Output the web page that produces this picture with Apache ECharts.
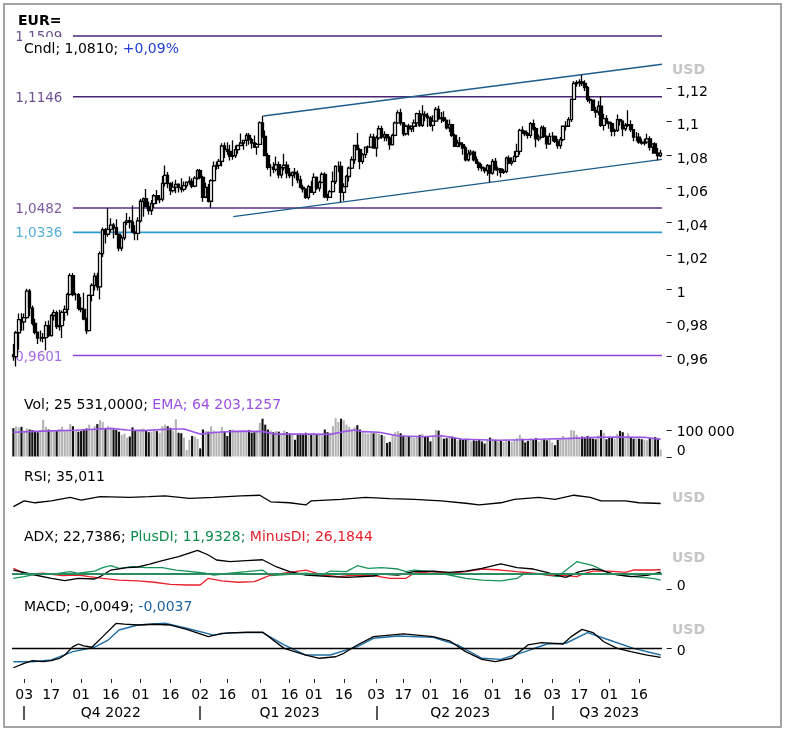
<!DOCTYPE html>
<html><head><meta charset="utf-8">
<script src="https://cdn.jsdelivr.net/npm/echarts@6/dist/echarts.min.js"></script>
<style>html,body{margin:0;padding:0;background:#fff}#c{width:785px;height:733px}</style>
</head><body><div id="c"></div>
<script>
const FONT = '"DejaVu Sans", Verdana, sans-serif';

// ---------- categories: trading days (weekdays) ----------
const firstDay = '2022-09-27', lastDay = '2023-08-28';
function weekdays(s, e) {
  const out = []; let d = new Date(s + 'T00:00:00Z'); const end = new Date(e + 'T00:00:00Z');
  while (d <= end) { const w = d.getUTCDay(); if (w !== 0 && w !== 6) out.push(d.toISOString().slice(0, 10)); d = new Date(d.getTime() + 86400000); }
  return out;
}
const dates = weekdays(firstDay, lastDay);

// ---------- tick labels ----------
const tickDates = ['2022-10-03','2022-10-17','2022-11-01','2022-11-16','2022-12-01','2022-12-16','2023-01-02','2023-01-16','2023-02-01','2023-02-16','2023-03-01','2023-03-16','2023-04-03','2023-04-17','2023-05-01','2023-05-16','2023-06-01','2023-06-16','2023-07-03','2023-07-17','2023-08-01','2023-08-16'];
const quarterStarts = ['2022-10-03','2023-01-02','2023-04-03','2023-07-03'];
const quarterCenters = ['2022-11-16','2023-02-16','2023-05-16','2023-08-01'];
const quarterLabels = ['Q4 2022','Q1 2023','Q2 2023','Q3 2023'];
const priceTicks = [0.96,0.98,1.00,1.02,1.04,1.06,1.08,1.10,1.12];
const priceTickLabels = ['0,96','0,98','1','1,02','1,04','1,06','1,08','1,1','1,12'];
const volTicks = [0, 100];
const volTickLabels = ['0', '100 000'];
const zeroTickLabels = ['0', ''];

// ---------- price (OHLC) ----------
const opens = [0.9605,0.9594,0.9737,0.9815,0.9802,0.9827,0.9985,0.9884,0.9793,0.9740,
0.9705,0.9705,0.9708,0.9780,0.9720,0.9840,0.9857,0.9774,0.9780,0.9859,
0.9877,0.9966,1.0078,0.9965,0.9965,0.9883,0.9876,0.9819,0.9750,0.9960,
1.0020,1.0075,1.0011,1.0210,1.0352,1.0325,1.0354,1.0380,1.0364,1.0325,
1.0243,1.0304,1.0396,1.0405,1.0398,1.0338,1.0330,1.0405,1.0522,1.0537,
1.0490,1.0467,1.0508,1.0555,1.0532,1.0535,1.0629,1.0677,1.0627,1.0585,
1.0606,1.0622,1.0603,1.0593,1.0615,1.0636,1.0640,1.0612,1.0660,1.0705,
1.0664,1.0546,1.0605,1.0522,1.0645,1.0732,1.0736,1.0760,1.0852,1.0832,
1.0820,1.0790,1.0795,1.0830,1.0855,1.0870,1.0885,1.0915,1.0890,1.0870,
1.0845,1.0862,1.0990,1.0910,1.0795,1.0725,1.0725,1.0713,1.0740,1.0680,
1.0722,1.0737,1.0690,1.0675,1.0695,1.0685,1.0650,1.0605,1.0595,1.0545,
1.0610,1.0575,1.0665,1.0600,1.0635,1.0682,1.0548,1.0545,1.0580,1.0640,
1.0730,1.0730,1.0575,1.0610,1.0670,1.0720,1.0770,1.0855,1.0830,1.0760,
1.0800,1.0845,1.0845,1.0905,1.0840,1.0900,1.0955,1.0905,1.0920,1.0900,
1.0860,1.0915,1.0990,1.1050,1.0990,1.0925,1.0970,1.0955,1.0970,1.0990,
1.1045,1.0975,1.1040,1.1030,1.1020,1.0975,1.1000,1.1070,1.1015,1.1020,
1.1005,1.0960,1.0980,1.0915,1.0850,1.0870,1.0860,1.0840,1.0770,1.0805,
1.0815,1.0770,1.0750,1.0725,1.0720,1.0705,1.0735,1.0690,1.0760,1.0710,
1.0715,1.0695,1.0700,1.0780,1.0750,1.0760,1.0790,1.0820,1.0945,1.0940,
1.0925,1.0915,1.0985,1.0955,1.0895,1.0905,1.0960,1.0910,1.0865,1.0910,
1.0910,1.0880,1.0855,1.0890,1.0970,1.0970,1.1010,1.1130,1.1225,1.1230,
1.1235,1.1225,1.1200,1.1130,1.1125,1.1065,1.1055,1.1090,1.0975,1.1015,
1.0995,1.0985,1.0940,1.0945,1.1010,1.1000,1.0955,1.0975,1.0980,1.0950,
1.0905,1.0905,1.0875,1.0870,1.0875,1.0895,1.0845,1.0865,1.0810,1.0795];
const closes = [0.9594,0.9737,0.9815,0.9802,0.9827,0.9985,0.9884,0.9793,0.9740,0.9705,
0.9705,0.9708,0.9780,0.9720,0.9840,0.9857,0.9774,0.9780,0.9859,0.9877,
0.9966,1.0078,0.9965,0.9965,0.9883,0.9876,0.9819,0.9750,0.9960,1.0020,
1.0075,1.0011,1.0210,1.0352,1.0325,1.0354,1.0380,1.0364,1.0325,1.0243,
1.0304,1.0396,1.0405,1.0398,1.0338,1.0330,1.0405,1.0522,1.0537,1.0490,
1.0467,1.0508,1.0555,1.0532,1.0535,1.0629,1.0677,1.0627,1.0585,1.0606,
1.0622,1.0603,1.0593,1.0615,1.0636,1.0640,1.0612,1.0660,1.0705,1.0664,
1.0546,1.0605,1.0522,1.0645,1.0732,1.0736,1.0760,1.0852,1.0832,1.0820,
1.0790,1.0795,1.0830,1.0855,1.0870,1.0885,1.0915,1.0890,1.0870,1.0845,
1.0862,1.0990,1.0910,1.0795,1.0725,1.0725,1.0713,1.0740,1.0680,1.0722,
1.0737,1.0690,1.0675,1.0695,1.0685,1.0650,1.0605,1.0595,1.0545,1.0610,
1.0575,1.0665,1.0600,1.0635,1.0682,1.0548,1.0545,1.0580,1.0640,1.0730,
1.0730,1.0575,1.0610,1.0670,1.0720,1.0770,1.0855,1.0830,1.0760,1.0800,
1.0845,1.0845,1.0905,1.0840,1.0900,1.0955,1.0905,1.0920,1.0900,1.0860,
1.0915,1.0990,1.1050,1.0990,1.0925,1.0970,1.0955,1.0970,1.0990,1.1045,
1.0975,1.1040,1.1030,1.1020,1.0975,1.1000,1.1070,1.1015,1.1020,1.1005,
1.0960,1.0980,1.0915,1.0850,1.0870,1.0860,1.0840,1.0770,1.0805,1.0815,
1.0770,1.0750,1.0725,1.0720,1.0705,1.0735,1.0690,1.0760,1.0710,1.0715,
1.0695,1.0700,1.0780,1.0750,1.0760,1.0790,1.0820,1.0945,1.0940,1.0925,
1.0915,1.0985,1.0955,1.0895,1.0905,1.0960,1.0910,1.0865,1.0910,1.0910,
1.0880,1.0855,1.0890,1.0970,1.0970,1.1010,1.1130,1.1225,1.1230,1.1235,
1.1225,1.1200,1.1130,1.1125,1.1065,1.1055,1.1090,1.0975,1.1015,1.0995,
1.0985,1.0940,1.0945,1.1010,1.1000,1.0955,1.0975,1.0980,1.0950,1.0905,
1.0905,1.0875,1.0870,1.0875,1.0895,1.0845,1.0865,1.0810,1.0795,1.0810];
const highs = [0.9670,0.9748,0.9852,0.9853,0.9852,0.9999,0.9998,0.9900,0.9820,0.9745,
0.9750,0.9735,0.9806,0.9810,0.9850,0.9875,0.9870,0.9875,0.9870,0.9900,
0.9976,1.0093,1.0094,0.9976,0.9975,0.9950,0.9976,0.9827,0.9965,1.0033,
1.0095,1.0095,1.0222,1.0365,1.0362,1.0481,1.0420,1.0392,1.0415,1.0330,
1.0320,1.0400,1.0452,1.0430,1.0497,1.0380,1.0427,1.0535,1.0545,1.0595,
1.0520,1.0530,1.0565,1.0590,1.0560,1.0673,1.0736,1.0697,1.0635,1.0640,
1.0650,1.0630,1.0660,1.0640,1.0640,1.0670,1.0660,1.0672,1.0714,1.0715,
1.0675,1.0633,1.0625,1.0653,1.0760,1.0760,1.0775,1.0868,1.0873,1.0875,
1.0860,1.0887,1.0855,1.0860,1.0927,1.0890,1.0930,1.0930,1.0900,1.0915,
1.0870,1.1000,1.1033,1.0945,1.0810,1.0745,1.0755,1.0790,1.0760,1.0730,
1.0805,1.0760,1.0720,1.0700,1.0720,1.0705,1.0675,1.0620,1.0600,1.0620,
1.0645,1.0690,1.0670,1.0645,1.0695,1.0695,1.0567,1.0590,1.0700,1.0737,
1.0760,1.0760,1.0630,1.0680,1.0730,1.0790,1.0860,1.0930,1.0840,1.0810,
1.0845,1.0855,1.0925,1.0925,1.0915,1.0975,1.0973,1.0940,1.0925,1.0910,
1.0925,1.0998,1.1065,1.1075,1.0995,1.0980,1.0985,1.0975,1.1010,1.1050,
1.1065,1.1095,1.1060,1.1050,1.1030,1.1035,1.1085,1.1092,1.1055,1.1060,
1.1010,1.1010,1.0985,1.0925,1.0890,1.0905,1.0875,1.0850,1.0830,1.0830,
1.0825,1.0790,1.0760,1.0745,1.0725,1.0745,1.0740,1.0775,1.0780,1.0730,
1.0720,1.0715,1.0790,1.0795,1.0785,1.0822,1.0865,1.0955,1.0970,1.0945,
1.0935,1.0995,1.1010,1.0965,1.0920,1.0975,1.0975,1.0915,1.0930,1.0935,
1.0915,1.0895,1.0905,1.0975,1.1000,1.1025,1.1135,1.1240,1.1245,1.1250,
1.1276,1.1245,1.1210,1.1150,1.1130,1.1085,1.1120,1.1150,1.1045,1.1035,
1.1000,1.0995,1.0955,1.1040,1.1015,1.1005,1.0990,1.1065,1.1005,1.0950,
1.0935,1.0930,1.0895,1.0895,1.0925,1.0910,1.0865,1.0875,1.0840,1.0830];
const lows = [0.9570,0.9536,0.9635,0.9749,0.9750,0.9820,0.9836,0.9780,0.9727,0.9670,
0.9685,0.9680,0.9632,0.9712,0.9715,0.9810,0.9760,0.9750,0.9705,0.9808,
0.9840,0.9960,0.9955,0.9930,0.9870,0.9860,0.9812,0.9730,0.9745,0.9925,
0.9990,0.9990,0.9936,1.0190,1.0270,1.0310,1.0335,1.0300,1.0324,1.0223,
1.0225,1.0290,1.0380,1.0360,1.0335,1.0290,1.0290,1.0395,1.0430,1.0490,
1.0443,1.0440,1.0480,1.0505,1.0510,1.0520,1.0610,1.0600,1.0560,1.0575,
1.0570,1.0575,1.0575,1.0580,1.0600,1.0620,1.0600,1.0605,1.0650,1.0654,
1.0519,1.0540,1.0515,1.0483,1.0640,1.0710,1.0715,1.0730,1.0780,1.0800,
1.0765,1.0770,1.0780,1.0805,1.0850,1.0830,1.0850,1.0860,1.0835,1.0840,
1.0800,1.0860,1.0900,1.0795,1.0710,1.0670,1.0690,1.0700,1.0660,1.0660,
1.0705,1.0660,1.0660,1.0612,1.0660,1.0630,1.0600,1.0575,1.0535,1.0533,
1.0575,1.0560,1.0590,1.0580,1.0630,1.0540,1.0525,1.0545,1.0575,1.0625,
1.0695,1.0516,1.0525,1.0610,1.0640,1.0715,1.0745,1.0830,1.0713,1.0745,
1.0780,1.0810,1.0840,1.0835,1.0788,1.0890,1.0895,1.0880,1.0880,1.0830,
1.0855,1.0910,1.0985,1.0975,1.0910,1.0915,1.0915,1.0935,1.0935,1.0965,
1.0965,1.0965,1.1000,1.0965,1.0965,1.0940,1.0995,1.1005,1.0990,1.0995,
1.0950,1.0935,1.0905,1.0850,1.0845,1.0845,1.0800,1.0760,1.0760,1.0795,
1.0760,1.0745,1.0705,1.0700,1.0690,1.0675,1.0635,1.0680,1.0705,1.0675,
1.0665,1.0685,1.0690,1.0745,1.0735,1.0755,1.0780,1.0800,1.0925,1.0910,
1.0895,1.0900,1.0945,1.0845,1.0880,1.0900,1.0900,1.0835,1.0860,1.0880,
1.0870,1.0835,1.0835,1.0880,1.0945,1.0965,1.0995,1.1125,1.1205,1.1205,
1.1210,1.1180,1.1115,1.1105,1.1065,1.1020,1.1035,1.0965,1.0945,1.0985,
1.0955,1.0910,1.0910,1.0935,1.0975,1.0910,1.0940,1.0965,1.0935,1.0880,
1.0880,1.0865,1.0860,1.0855,1.0865,1.0825,1.0805,1.0805,1.0765,1.0785];

// ---------- volume (thousands) and its EMA ----------
const volumesK = [105,112,108,110,96,104,100,98,95,90,
98,136,110,100,95,92,97,102,110,96,
100,120,112,95,92,94,100,104,118,100,
112,120,135,128,104,112,105,100,98,92,
80,85,70,74,108,95,98,102,104,95,
90,92,96,94,88,112,118,112,106,96,
138,88,86,70,24,62,76,74,66,30,
100,95,92,112,96,88,90,110,92,76,
98,100,96,92,94,90,95,98,88,90,
96,125,140,118,100,96,90,94,92,84,
96,90,86,84,62,84,82,80,88,80,
84,88,82,80,78,100,90,88,112,142,
128,140,134,118,110,100,108,116,100,90,
86,84,88,86,88,84,80,76,50,54,
80,90,94,86,76,74,76,72,70,74,
80,84,76,72,56,78,98,96,80,66,
68,76,74,70,60,64,62,66,68,56,
60,58,62,56,48,64,70,66,62,56,
58,54,62,58,54,64,68,80,66,52,
58,66,64,68,56,62,64,60,66,52,
42,62,68,76,64,72,98,96,80,66,
74,70,76,68,66,64,78,98,88,64,
70,72,66,84,95,90,68,86,70,66,
68,66,64,62,60,68,70,72,66,25.5];
const volEmaK = [[0,90],[11,94],[23,97],[36,104],[42,98],[48,96],[58,102],[63,102],[69,83],[75,90],[85,94],[92,92],[97,83],[110,83],[117,82],[122,92],[126,98],[129,92],[135,90],[142,77],[151,73],[158,77],[166,64],[179,60],[187,62],[197,65],[206,67],[215,71],[224,72],[233,71],[238,65],[239,64.2]];

// ---------- indicators ----------
const rsi = [[0,22],[4,46],[8,38],[14,46],[21,60],[25,49],[32,63],[43,60],[50,63],[56,66],[65,56],[74,60],[84,66],[91,69],[95,42],[102,38],[108,29],[110,46],[121,52],[130,60],[139,55],[148,52],[158,46],[167,36],[172,29],[180,38],[185,52],[194,60],[200,52],[207,69],[213,60],[217,46],[226,46],[231,38],[237,36],[239,35]];
const adx = [[0,25.8],[8,18.9],[14,14.3],[19,11],[24,14.3],[30,13.3],[32,16.5],[36,25.8],[42,29],[46,30],[50,33.8],[55,38.8],[61,44.3],[68,53.2],[72,46.7],[75,39.7],[80,37.4],[86,38.8],[92,40.1],[97,30.4],[102,23.5],[108,18.9],[117,16.5],[123,15.7],[133,17.5],[136,20.3],[142,18.9],[148,23.5],[155,24.4],[161,22.6],[167,24.4],[173,28.2],[180,34.2],[186,29],[192,27.2],[197,22.6],[201,17.9],[204,15.7],[209,23.5],[214,27.2],[217,25.8],[222,19.9],[228,16.5],[234,18.5],[239,22.7]];
const plusDI = [[0,14.3],[4,16.5],[8,19.9],[14,19.9],[21,23.5],[24,21.3],[30,24.4],[33,29],[36,31.8],[39,28.2],[44,30.4],[49,29],[55,29],[60,25.8],[64,24.4],[71,21.3],[74,18.9],[80,21.3],[86,23.5],[92,25.8],[95,17.9],[102,19.9],[108,21.3],[114,18.9],[117,24.4],[123,23.5],[127,31.8],[131,28.2],[136,29],[142,27.2],[145,23.5],[148,25.8],[155,23.5],[161,18.9],[167,14.3],[173,11.9],[180,10.6],[186,14.3],[189,21.3],[195,19.9],[201,16.5],[208,37.4],[214,31.8],[220,21.3],[225,17.9],[229,16.5],[236,14.3],[239,11.9]];
const minusDI = [[0,28.2],[5,19.9],[11,21.3],[18,17.9],[24,18.9],[28,16.5],[33,14.3],[39,11.9],[46,10.6],[52,8.8],[58,6],[64,5],[69,5],[72,14.3],[77,10.6],[83,8.8],[89,9.6],[92,14.3],[95,18.9],[102,22.6],[108,25.8],[114,18.9],[120,16.5],[127,18.9],[133,17.9],[139,14.3],[145,14.3],[148,21.3],[155,23.5],[161,21.3],[167,23.5],[173,27.2],[180,25.8],[186,23.5],[192,21.3],[198,18.9],[204,17.9],[208,16.5],[211,21.3],[214,24.4],[220,24.4],[226,22.6],[229,25.8],[236,25.8],[239,26.2]];
const adxLevel = 20;
const macd = [[0,-0.0104],[4,-0.0081],[7,-0.0067],[11,-0.0072],[14,-0.0067],[17,-0.0055],[19,-0.0037],[22,0.0007],[24,0.0021],[26,0.0011],[29,0.0004],[33,0.0060],[38,0.0130],[41,0.0126],[46,0.0121],[52,0.0125],[58,0.0121],[64,0.0098],[72,0.0060],[77,0.0077],[86,0.0083],[92,0.0084],[100,-0.0002],[108,-0.0037],[113,-0.0054],[119,-0.0046],[122,-0.0028],[127,0.0016],[133,0.0060],[144,0.0074],[155,0.0060],[161,0.0038],[167,-0.0019],[173,-0.0060],[178,-0.0072],[184,-0.0054],[190,0.0016],[195,0.0028],[203,0.0021],[206,0.0060],[210,0.0098],[214,0.0081],[218,0.0033],[223,-0.0002],[228,-0.0019],[234,-0.0037],[239,-0.0049]];
const macdSignal = [[0,-0.0072],[7,-0.0072],[14,-0.0063],[22,-0.0019],[30,0.0004],[35,0.0042],[39,0.0095],[46,0.0121],[56,0.0130],[64,0.0104],[74,0.0068],[80,0.0081],[92,0.0081],[100,0.0016],[108,-0.0037],[117,-0.0037],[127,0.0007],[133,0.0051],[142,0.0063],[155,0.0056],[164,0.0016],[173,-0.0054],[180,-0.0060],[189,-0.0019],[197,0.0021],[204,0.0025],[212,0.0081],[220,0.0042],[229,-0.0002],[239,-0.0037]];

// ---------- drawn levels and channel ----------
const levels = [1.1509, 1.1146, 1.0482, 1.0336, 0.9601];
const levelLabels = ['1,1509', '1,1146', '1,0482', '1,0336', '0,9601'];
const levelColors = ['#4a2473', '#4a2473', '#5e2f8a', '#2a9bd2', '#8c46dc'];
const levelStartIdx = 22;
const channelUpper = [[92.3, 1.1031], [239.5, 1.1340]];
const channelLower = [[81.2, 1.0430], [239.5, 1.07725]];

// ---------- scales of the panels ----------
const priceMin = 0.95027, priceMax = 1.15445;
const volMax = 160;
const adxMax = 60;
const macdMin = -0.012632, macdMax = 0.015789;

// ---------- build ----------
const N = dates.length;
const candleData = dates.map((d, i) => [opens[i], closes[i], lows[i], highs[i]]);
const volData = volumesK.map((v, i) => ({ value: v, itemStyle: { color: closes[i] >= opens[i] ? '#b4b4b4' : '#111111' } }));

const L = 12, W = 650;
const TICK_X = L + W + 4.7, TICK_W = 5;
const pTop = 30, pH = 342;
const pxPerPrice = pH / (priceMax - priceMin);
const vTop = 413.3, vH = 43.2;
const aTop = 545.4, aH = 43.2;
const mTop = 618, mH = 54;
const grids = [
  { left: L, width: W, top: pTop, height: pH },
  { left: L, width: W, top: vTop, height: vH },
  { left: L, width: W, top: 487.7, height: 24.3 },
  { left: L, width: W, top: aTop, height: aH },
  { left: L, width: W, top: mTop, height: mH },
  // narrow strips right of each panel that carry the value labels
  { left: TICK_X, width: TICK_W, top: pTop + (priceMax - priceTicks[priceTicks.length - 1]) * pxPerPrice, height: (priceTicks[priceTicks.length - 1] - priceTicks[0]) * pxPerPrice },
  { left: TICK_X, width: TICK_W, top: vTop + vH - volTicks[1] / volMax * vH, height: volTicks[1] / volMax * vH },
  { left: TICK_X, width: TICK_W, top: aTop + aH - 10, height: 10 },
  { left: TICK_X, width: TICK_W, top: mTop + macdMax / (macdMax - macdMin) * mH - 10, height: 10 }
].map(g => Object.assign(g, { containLabel: false, outerBoundsMode: 'none' }));

const hiddenCat = gi => ({ type: 'category', gridIndex: gi, data: dates, show: false, boundaryGap: true });
const hiddenVal = gi => ({ type: 'value', gridIndex: gi, min: -0.5, max: N - 0.5, show: false });
const stripX = gi => ({ type: 'value', gridIndex: gi, min: 0, max: 1, show: false });

const plainY = (gi, min, max) => ({ type: 'value', gridIndex: gi, position: 'right', min: min, max: max, show: false, axisLine: { onZero: false } });
function labelAxis(gi, cats, showIdx, rich, styleOf) {
  return {
    type: 'category', gridIndex: gi, data: cats, boundaryGap: false, position: 'right',
    axisLine: { show: false, onZero: false }, axisTick: { show: false }, splitLine: { show: false },
    axisLabel: { show: true, interval: (i) => showIdx(i), margin: 5, formatter: (v) => '{' + styleOf(v) + '|' + v + '}', rich: rich }
  };
}
const lab = pad => ({ fontFamily: FONT, fontSize: 14, color: '#000', padding: pad });

const yAxes = [
  plainY(0, priceMin, priceMax),
  plainY(1, 0, volMax),
  plainY(2, 0, 100),
  plainY(3, 0, adxMax),
  plainY(4, macdMin, macdMax),
  labelAxis(5, priceTickLabels, () => true, { t: lab([9, 0, 0, 0]) }, () => 't'),
  labelAxis(6, volTickLabels, () => true, { t: lab([6, 0, 0, 0]), z: lab([0, 0, 10, 0]) }, v => v === '0' ? 'z' : 't'),
  labelAxis(7, zeroTickLabels, i => i === 0, { t: lab([0, 0, 5, 0]) }, () => 't'),
  labelAxis(8, zeroTickLabels, i => i === 0, { t: lab([6, 0, 0, 0]) }, () => 't')
];

const xAxes = [
  hiddenCat(0), hiddenVal(0),   // 0,1
  hiddenCat(1), hiddenVal(1),   // 2,3
  hiddenVal(2),                 // 4
  hiddenVal(3),                 // 5
  hiddenVal(4),                 // 6
  { // 7: day labels
    type: 'category', gridIndex: 4, data: dates, position: 'bottom', offset: 7, boundaryGap: true,
    axisLine: { show: false, onZero: false },
    axisTick: { show: true, alignWithLabel: true, length: 4, interval: (i, v) => tickDates.includes(v), lineStyle: { color: '#222', width: 1 } },
    axisLabel: { show: true, interval: (i, v) => tickDates.includes(v), formatter: v => v.slice(8, 10), margin: 9, fontFamily: FONT, fontSize: 14, color: '#000' }
  },
  { // 8: quarters
    type: 'category', gridIndex: 4, data: dates, position: 'bottom', offset: 34, boundaryGap: true,
    axisLine: { show: false, onZero: false },
    axisTick: { show: true, alignWithLabel: true, length: 14, interval: (i, v) => quarterStarts.includes(v), lineStyle: { color: '#222', width: 1.5 } },
    axisLabel: { show: true, interval: (i, v) => quarterCenters.includes(v), formatter: v => quarterLabels[quarterCenters.indexOf(v)] || '', margin: 0, fontFamily: FONT, fontSize: 14, color: '#000' }
  },
  stripX(5), stripX(6), stripX(7), stripX(8)   // 9..12
];

const series = [];
levels.forEach((lv, k) => {
  series.push({ type: 'line', xAxisIndex: 1, yAxisIndex: 0, data: [[levelStartIdx, lv], [N - 0.5, lv]], symbol: 'none', silent: true,
    lineStyle: { color: levelColors[k], width: 1.6 }, z: 1 });
  series.push({ type: 'scatter', xAxisIndex: 1, yAxisIndex: 0, data: [[levelStartIdx, lv]], symbolSize: 1, itemStyle: { color: 'rgba(0,0,0,0)' }, silent: true, z: 1,
    label: { show: true, position: 'left', distance: 10, offset: [0, 1.5], formatter: levelLabels[k], color: levelColors[k], fontFamily: FONT, fontSize: 13.5 } });
});
[channelUpper, channelLower].forEach(c => series.push({ type: 'line', xAxisIndex: 1, yAxisIndex: 0, data: c, symbol: 'none', silent: true, lineStyle: { color: '#1d5d8c', width: 1.3 }, z: 3 }));
series.push({
  type: 'candlestick', xAxisIndex: 0, yAxisIndex: 0, data: candleData, barWidth: 3, z: 4,
  itemStyle: { color: '#ffffff', color0: '#000000', borderColor: '#000000', borderColor0: '#000000', borderColorDoji: '#000000', borderWidth: 1.3 }
});
series.push({ type: 'bar', xAxisIndex: 2, yAxisIndex: 1, data: volData, barCategoryGap: '22%', silent: true });
series.push({ type: 'line', xAxisIndex: 3, yAxisIndex: 1, data: volEmaK, symbol: 'none', lineStyle: { color: '#9a55e6', width: 1.6 }, z: 5 });
series.push({ type: 'line', xAxisIndex: 4, yAxisIndex: 2, data: rsi, symbol: 'none', lineStyle: { color: '#000', width: 1.3 } });
series.push({ type: 'line', xAxisIndex: 5, yAxisIndex: 3, data: plusDI, symbol: 'none', lineStyle: { color: '#17925a', width: 1.3 },
  markLine: { silent: true, symbol: ['none', 'none'], label: { show: false }, lineStyle: { color: '#2a8d5f', width: 2, type: 'solid' }, data: [{ yAxis: adxLevel }] } });
series.push({ type: 'line', xAxisIndex: 5, yAxisIndex: 3, data: minusDI, symbol: 'none', lineStyle: { color: '#e8202c', width: 1.3 } });
series.push({ type: 'line', xAxisIndex: 5, yAxisIndex: 3, data: adx, symbol: 'none', lineStyle: { color: '#000', width: 1.3 } });
series.push({ type: 'line', xAxisIndex: 6, yAxisIndex: 4, data: macdSignal, symbol: 'none', lineStyle: { color: '#1f6ea6', width: 1.4 },
  markLine: { silent: true, symbol: ['none', 'none'], label: { show: false }, lineStyle: { color: '#000', width: 1.3, type: 'solid' }, data: [{ yAxis: 0 }] } });
series.push({ type: 'line', xAxisIndex: 6, yAxisIndex: 4, data: macd, symbol: 'none', lineStyle: { color: '#000', width: 1.3 } });

function title(y, text, rich, extra) {
  return Object.assign({ type: 'text', x: 24, y: y, z: 100,
    style: Object.assign({ text: text, rich: rich, fill: '#000', font: '14px ' + FONT, verticalAlign: 'middle', align: 'left' }, extra || {}) });
}
const rc = c => ({ fill: c, color: c, font: '14px ' + FONT });
const usd = y => ({ type: 'text', x: 672, y: y, z: 100, style: { text: 'USD', fill: '#c6c6c6', font: 'bold 14px ' + FONT, verticalAlign: 'middle' } });

const graphic = [
  { type: 'rect', shape: { x: 4, y: 4, width: 777, height: 723 }, style: { fill: 'none', stroke: '#a3a3a3', lineWidth: 2 }, z: 0, silent: true },
  { type: 'text', x: 18, y: 21, z: 100, style: { text: 'EUR=', fill: '#000', font: 'bold 14px ' + FONT, verticalAlign: 'middle' } },
  { type: 'text', x: 22, y: 37, z: 100, style: { text: '{a|Cndl; 1,0810; }{b|+0,09%}', rich: { a: rc('#000'), b: rc('#1d3fd4') }, fill: '#000', font: '14px ' + FONT,
      verticalAlign: 'top', align: 'left', backgroundColor: '#fff', padding: [5, 3, 3, 2] } },
  title(405, '{a|Vol; 25 531,0000; }{b|EMA; 64 203,1257}', { a: rc('#000'), b: rc('#9a4fe2') }),
  title(477, '{a|RSI; 35,011}', { a: rc('#000') }),
  title(537.5, '{a|ADX; 22,7386; }{b|PlusDI; 11,9328; }{c|MinusDI; 26,1844}', { a: rc('#000'), b: rc('#0f8a4e'), c: rc('#e6212b') }),
  title(607.5, '{a|MACD; -0,0049; }{b|-0,0037}', { a: rc('#000'), b: rc('#1f63a0') }),
  usd(70.5), usd(498), usd(558), usd(630.5)
];

const chart = echarts.init(document.getElementById('c'), null, { renderer: 'canvas' });
chart.setOption({
  animation: false,
  backgroundColor: '#ffffff',
  textStyle: { fontFamily: FONT },
  grid: grids,
  xAxis: xAxes,
  yAxis: yAxes,
  series: series,
  graphic: graphic
});

// value-axis tick dashes, positioned through the panels' own y scales
const tickDefs = [
  { yAxisIndex: 0, values: priceTicks },
  { yAxisIndex: 1, values: volTicks },
  { yAxisIndex: 3, values: [0] },
  { yAxisIndex: 4, values: [0] }
];
const xEdge = chart.convertToPixel({ xAxisIndex: 1 }, N - 0.5);
const tickGraphics = [];
tickDefs.forEach(d => d.values.forEach(v => {
  const y = Math.round(chart.convertToPixel({ yAxisIndex: d.yAxisIndex }, v)) + 0.5;
  tickGraphics.push({ type: 'line', z: 120, silent: true,
    shape: { x1: xEdge + 4.7, y1: y, x2: xEdge + 9.7, y2: y }, style: { stroke: '#1a1a1a', lineWidth: 1 } });
}));
chart.setOption({ graphic: graphic.concat(tickGraphics) });
</script>
</body></html>
